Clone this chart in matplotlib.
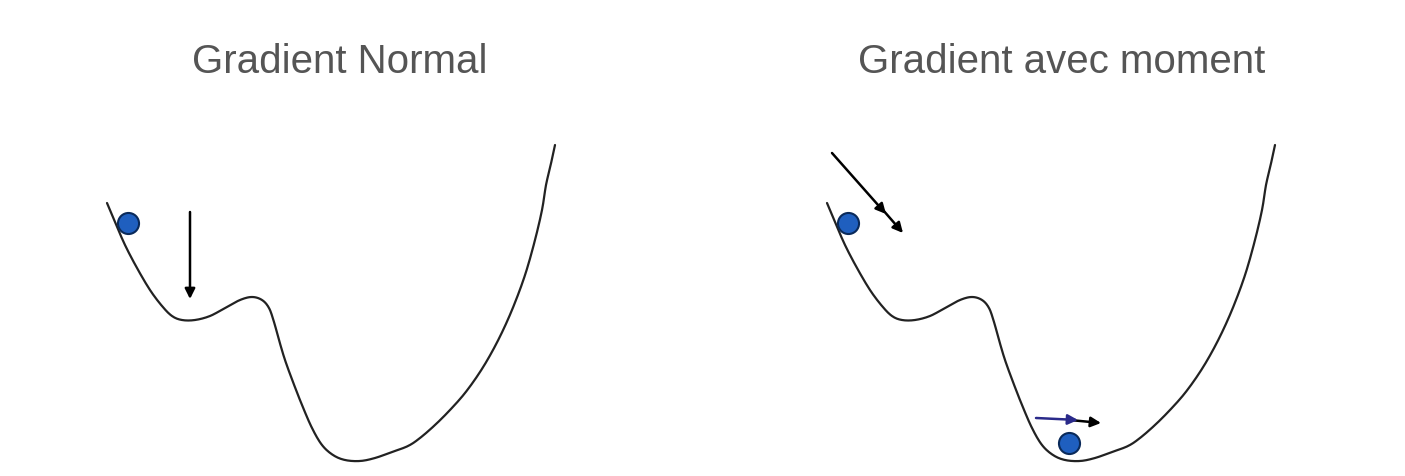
import matplotlib
matplotlib.use("Agg")
import numpy as np
from matplotlib import pyplot as plt

# valley profile (pixel coords of the left panel)
curve_x = [107, 115, 125, 137, 150, 162, 172, 182, 195, 210, 225, 240, 252, 262, 269, 274, 279, 285, 293, 302,
           312, 322, 333, 345, 360, 375, 392, 408, 420, 435, 450, 465, 480, 493, 505, 516, 526, 535, 542, 546, 550, 555]
curve_y = [203, 222, 245, 268, 290, 306, 316, 320, 320, 316, 308, 300, 297, 300, 308, 322, 340, 360, 382, 405,
           428, 445, 455, 460, 461, 458, 452, 446, 438, 425, 410, 393, 372, 350, 326, 300, 272, 240, 210, 185, 168, 145]
right_offset = 720

titles = ["Gradient Normal", "Gradient avec moment"]
title_x = [340, 1062]

balls_x = [128, 848, 1069]
balls_y = [223, 223, 443]


def smooth(xs, ys, n=12):
    # Catmull-Rom through the traced points, just to soften the line
    p = np.column_stack([xs, ys]).astype(float)
    p = np.vstack([p[0], p, p[-1]])
    out = []
    t = np.linspace(0, 1, n, endpoint=False)[:, None]
    for i in range(1, len(p) - 2):
        p0, p1, p2, p3 = p[i - 1], p[i], p[i + 1], p[i + 2]
        out.append(0.5 * ((2 * p1) + (-p0 + p2) * t + (2 * p0 - 5 * p1 + 4 * p2 - p3) * t ** 2
                          + (-p0 + 3 * p1 - 3 * p2 + p3) * t ** 3))
    out.append(p[-2][None, :])
    out = np.vstack(out)
    return out[:, 0], out[:, 1]


fig = plt.figure(figsize=(14.05, 4.76), dpi=100)
ax = fig.add_axes([0, 0, 1, 1])
ax.set_xlim(0, 1405)
ax.set_ylim(476, 0)
ax.axis('off')

sx, sy = smooth(curve_x, curve_y)
for off in [0, right_offset]:
    ax.plot(sx + off, sy, color='#222222', lw=1.6, solid_capstyle='round')

for t, tx in zip(titles, title_x):
    ax.text(tx, 62, t, ha='center', va='center', fontsize=29, color='#555555', family='Liberation Sans')

ax.scatter(balls_x, balls_y, s=230, color='#1f5fbf', edgecolor='#0a2a5a', linewidth=1.5, zorder=5)

arrow = dict(arrowstyle='-|>', color='black', lw=1.8, mutation_scale=15, shrinkA=0, shrinkB=0)
ax.annotate('', xy=(190, 299), xytext=(190, 212), arrowprops=arrow)
ax.annotate('', xy=(886, 214), xytext=(832, 153), arrowprops=arrow)
ax.annotate('', xy=(903, 233), xytext=(883, 210), arrowprops=arrow)
ax.annotate('', xy=(1101, 423), xytext=(1070, 420), arrowprops=arrow)
ax.annotate('', xy=(1078, 420), xytext=(1036, 418),
            arrowprops=dict(arrowstyle='-|>', color='#2a2a8a', lw=1.8, mutation_scale=15, shrinkA=0, shrinkB=0))

fig.savefig('out.png', dpi=100)
